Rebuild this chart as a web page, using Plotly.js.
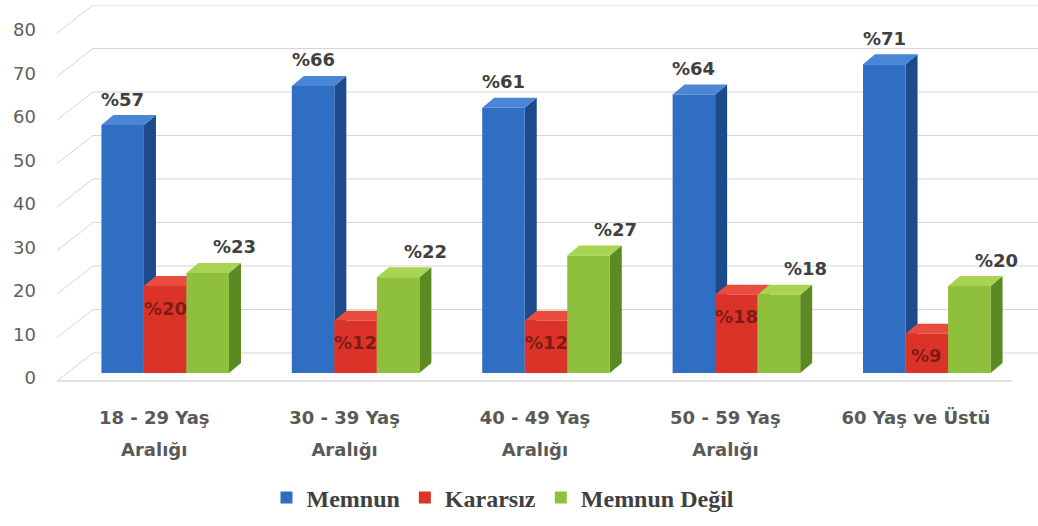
<!DOCTYPE html>
<html><head><meta charset="utf-8">
<script src="https://cdn.plot.ly/plotly-3.0.1.min.js"></script>
<style>body{margin:0;background:#fff}#chart{width:1038px;height:526px}</style>
</head><body><div id="chart"></div>
<script>
// ---- data ----
const categoriesLine1 = ["18 - 29 Yaş", "30 - 39 Yaş", "40 - 49 Yaş", "50 - 59 Yaş", "60 Yaş ve Üstü"];
const categoriesLine2 = ["Aralığı", "Aralığı", "Aralığı", "Aralığı", ""];
const seriesNames = ["Memnun", "Kararsız", "Memnun Değil"];
const memnun = [57, 66, 61, 64, 71];
const kararsiz = [20, 12, 12, 18, 9];
const memnunDegil = [23, 22, 27, 18, 20];
const yTicks = [0, 10, 20, 30, 40, 50, 60, 70, 80];

// ---- styling ----
const series = [memnun, kararsiz, memnunDegil];
const colors = [
  {front: '#2f6ec3', side: '#1d4a8a', top: '#4a86d6'},
  {front: '#dc3328', side: '#a52219', top: '#ea4c40'},
  {front: '#8fc03c', side: '#5b8a22', top: '#a8d452'}
];
const idx = categoriesLine1.map((_, i) => i);
const pxPerCat = 190.4, pxPerUnit = 4.35;
const bargap = 0.33;
const w = (1 - bargap) / 3;
const dX = 12 / pxPerCat, dY = 10 / pxPerUnit;      // bar depth
const wallX = 36 / pxPerCat, wallY = 28 / pxPerUnit; // floor/wall depth
const xMin = -0.5 - 13 / pxPerCat, xMax = 4.5 + 16 / pxPerCat;
const yMin = -13 / pxPerUnit, yMax = 84.6;
const backShift = 4.6;

const traces = series.map((vals, s) => ({
  type: 'bar', x: idx, y: vals, name: seriesNames[s],
  marker: {color: colors[s].front, line: {width: 0}},
  hoverinfo: 'skip', xaxis: 'x', yaxis: 'y'
}));
// dummy trace for second label line axis
traces.push({type: 'scatter', x: [0], y: [0], xaxis: 'x2', yaxis: 'y', mode: 'none', showlegend: false, hoverinfo: 'skip'});

const shapes = [];
const gridColor = '#d6d6d6';
yTicks.forEach(t => {
  shapes.push({type: 'line', xref: 'x', yref: 'y2', x0: xMin + wallX, x1: xMax + 1, y0: t, y1: t, line: {color: gridColor, width: 1}, layer: 'below'});
  shapes.push({type: 'line', xref: 'x', yref: 'y2', x0: xMin, x1: xMin + wallX, y0: t - wallY, y1: t, line: {color: gridColor, width: 1}, layer: 'below'});
});
const floorRight = xMin + 955 / pxPerCat;
shapes.push({type: 'line', xref: 'x', yref: 'y2', x0: xMin, x1: floorRight, y0: -wallY, y1: -wallY, line: {color: gridColor, width: 1.5}, layer: 'below'});

// 3D side and top faces, computed from data
idx.forEach(c => {
  series.forEach((vals, s) => {
    const v = vals[c];
    const xl = c + (s - 1.5) * w, xr = c + (s - 0.5) * w;
    shapes.push({type: 'path', xref: 'x', yref: 'y', layer: 'below', line: {width: 0},
      fillcolor: colors[s].side,
      path: `M${xr},0 L${xr + dX},${dY} L${xr + dX},${v + dY} L${xr},${v} Z`});
    shapes.push({type: 'path', xref: 'x', yref: 'y', layer: 'below', line: {width: 0},
      fillcolor: colors[s].top,
      path: `M${xl},${v} L${xl + dX},${v + dY} L${xr + dX},${v + dY} L${xr},${v} Z`});
  });
});

const labelFont = {family: 'DejaVu Sans', size: 18, color: '#404040', weight: 'bold'};
const annotations = [];
idx.forEach(c => {
  annotations.push({x: c - w, y: memnun[c], xref: 'x', yref: 'y', text: '%' + memnun[c], showarrow: false, yshift: 26, font: labelFont});
  annotations.push({x: c, y: kararsiz[c], xref: 'x', yref: 'y', text: '%' + kararsiz[c], showarrow: false, yshift: -22,
    font: {family: 'DejaVu Sans', size: 18, color: 'rgba(95,20,18,0.75)', weight: 'bold'}});
  annotations.push({x: c + w, y: memnunDegil[c], xref: 'x', yref: 'y', text: '%' + memnunDegil[c], showarrow: false, xshift: 27, yshift: 26, font: labelFont});
});

const tickFont = {family: 'DejaVu Sans', size: 18, color: '#595959', weight: 'bold'};
const layout = {
  width: 1038, height: 526,
  margin: {l: 57, r: 0, t: 5, b: 140},
  paper_bgcolor: '#fff', plot_bgcolor: 'rgba(0,0,0,0)',
  barmode: 'group', bargap: bargap, bargroupgap: 0,
  xaxis: {range: [xMin, xMax], tickvals: idx, ticktext: categoriesLine1, showgrid: false, zeroline: false, showline: false,
    ticks: '', tickfont: tickFont, ticklabelshift: -11, ticklabelstandoff: 19, fixedrange: true},
  xaxis2: {overlaying: 'x', anchor: 'y', side: 'bottom', range: [xMin, xMax], tickvals: idx, ticktext: categoriesLine2,
    showgrid: false, zeroline: false, showline: false, ticks: '', tickfont: tickFont, ticklabelshift: -11, ticklabelstandoff: 51},
  yaxis: {range: [yMin, yMax], tickvals: yTicks, showgrid: false, zeroline: false, showline: false, ticks: '',
    tickfont: {family: 'DejaVu Sans', size: 18, color: '#5f5f5f'}, ticklabelshift: 5, ticklabelstandoff: 20},
  yaxis2: {overlaying: 'y', range: [yMin - backShift, yMax - backShift], visible: false, showgrid: false},
  showlegend: true,
  legend: {orientation: 'h', x: (503 - 57) / 981, xanchor: 'center', y: (386 - 498) / 381, yanchor: 'middle',
    font: {family: 'Liberation Serif', size: 24, color: '#404040', weight: 'bold'}, itemclick: false},
  shapes: shapes, annotations: annotations
};
Plotly.newPlot('chart', traces, layout, {displayModeBar: false, staticPlot: true});
</script></body></html>
